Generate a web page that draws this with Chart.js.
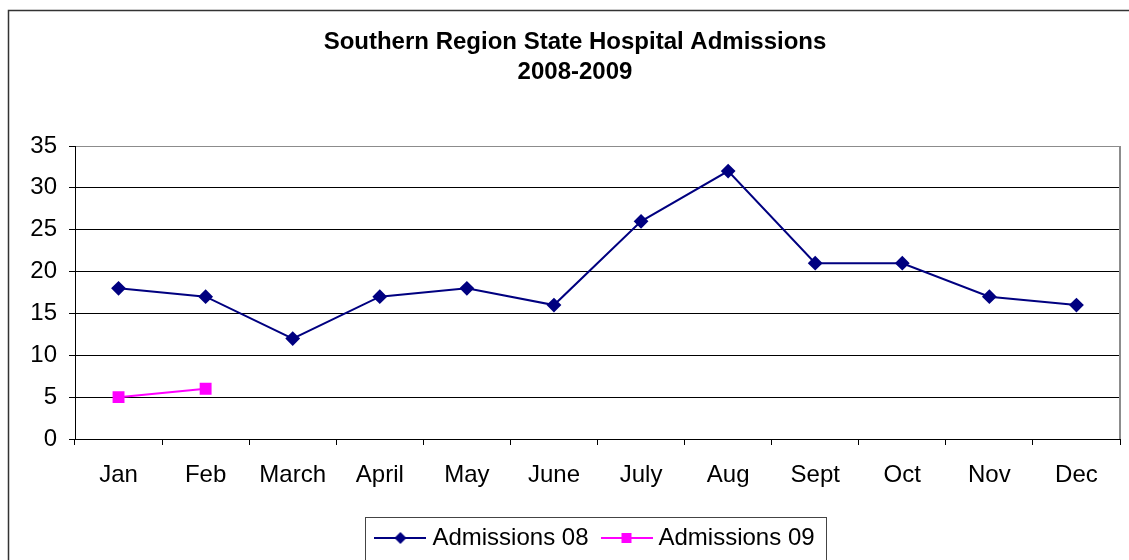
<!DOCTYPE html>
<html>
<head>
<meta charset="utf-8">
<script src="https://cdn.jsdelivr.net/npm/chart.js@4.4.1/dist/chart.umd.min.js"></script>
<style>
  html, body { margin: 0; padding: 0; background: #fff; }
  #wrap { width: 1129px; height: 560px; }
</style>
</head>
<body>
<div id="wrap"><canvas id="admissionsChart" width="1129" height="560"></canvas></div>
<script>
const months = ["Jan", "Feb", "March", "April", "May", "June", "July", "Aug", "Sept", "Oct", "Nov", "Dec"];
const admissions08 = [18, 17, 12, 17, 18, 16, 26, 32, 21, 21, 17, 16];
const admissions09 = [5, 6, null, null, null, null, null, null, null, null, null, null];
const yTicks = [0, 5, 10, 15, 20, 25, 30, 35];

const NAVY = "#000080";
const MAGENTA = "#ff00ff";
const FONT = "'Liberation Sans', Arial, sans-serif";
const PLOT_BOTTOM = 439;

// little line+marker images for the legend, like the Excel legend keys
function legendKey(color, marker) {
  const c = document.createElement("canvas");
  c.width = 52;
  c.height = 14;
  const g = c.getContext("2d");
  g.strokeStyle = color;
  g.lineWidth = 2;
  g.beginPath();
  g.moveTo(0, 7);
  g.lineTo(52, 7);
  g.stroke();
  g.fillStyle = color;
  g.beginPath();
  if (marker === "diamond") {
    g.moveTo(26, 1);
    g.lineTo(32, 7);
    g.lineTo(26, 13);
    g.lineTo(20, 7);
    g.closePath();
  } else {
    g.rect(21, 2, 10, 10);
  }
  g.fill();
  return c;
}

const frame = {
  id: "frame",
  afterLayout(chart) {
    // centre the legend under the plot area instead of the whole canvas
    const lg = chart.legend;
    const shift = (chart.chartArea.left + chart.chartArea.right) / 2 - (lg.left + lg.right) / 2;
    lg.left += shift;
    lg.right += shift;
  },
  afterDraw(chart) {
    const { ctx, chartArea, legend } = chart;
    ctx.save();
    // outer chart border (runs off the right/bottom edge in the original)
    ctx.strokeStyle = "#333";
    ctx.lineWidth = 1.5;
    ctx.strokeRect(8.5, 10.5, chart.width + 20, chart.height + 20);
    // gray plot border on the right
    ctx.strokeStyle = "#8c8c8c";
    ctx.lineWidth = 2;
    ctx.beginPath();
    ctx.moveTo(chartArea.right, chartArea.top);
    ctx.lineTo(chartArea.right, chartArea.bottom);
    ctx.stroke();
    // legend box
    const boxes = legend.legendHitBoxes || [];
    if (boxes.length) {
      const left = Math.min(...boxes.map((b) => b.left)) - 15;
      const right = Math.max(...boxes.map((b) => b.left + b.width)) + 12;
      const mid = boxes[0].top + boxes[0].height / 2;
      ctx.strokeStyle = "#444";
      ctx.lineWidth = 1;
      ctx.strokeRect(Math.round(left) + 0.5, Math.round(mid - 21) + 0.5, Math.round(right - left), 43);
    }
    ctx.restore();
  },
};

new Chart(document.getElementById("admissionsChart"), {
  type: "line",
  data: {
    labels: months,
    datasets: [
      {
        label: "Admissions 08",
        data: admissions08,
        borderColor: NAVY,
        backgroundColor: NAVY,
        borderWidth: 2,
        pointStyle: "rectRot",
        pointRadius: 6,
        pointHoverRadius: 6,
        tension: 0,
      },
      {
        label: "Admissions 09",
        data: admissions09,
        borderColor: MAGENTA,
        backgroundColor: MAGENTA,
        borderWidth: 2,
        pointStyle: "rect",
        pointRadius: 7,
        pointHoverRadius: 7,
        tension: 0,
      },
    ],
  },
  options: {
    responsive: false,
    animation: false,
    devicePixelRatio: 1,
    layout: {
      padding: { top: 10, left: 28, right: 7, bottom: 0 },
    },
    plugins: {
      title: {
        display: true,
        text: ["Southern Region State Hospital Admissions", "2008-2009"],
        color: "#000",
        font: { family: FONT, size: 24, weight: "bold", lineHeight: 1.25 },
        padding: { top: 17, bottom: 59 },
      },
      legend: {
        position: "bottom",
        labels: {
          color: "#000",
          font: { family: FONT, size: 24 },
          usePointStyle: true,
          pointStyleWidth: 40,
          padding: 18,
          generateLabels: (chart) =>
            chart.data.datasets.map((ds, i) => ({
              text: ds.label,
              pointStyle: legendKey(ds.borderColor, i === 0 ? "diamond" : "square"),
              fillStyle: ds.borderColor,
              strokeStyle: ds.borderColor,
              lineWidth: 0,
              datasetIndex: i,
              fontColor: "#000",
            })),
        },
      },
      tooltip: { enabled: false },
    },
    scales: {
      x: {
        offset: true,
        afterFit: (scale) => {
          const lh = (scale.chart.legend && scale.chart.legend.height) || 52;
          scale.height = scale.chart.height - PLOT_BOTTOM - lh;
        },
        grid: {
          offset: true,
          drawOnChartArea: false,
          drawTicks: true,
          tickLength: 6,
          color: "#000",
        },
        border: { display: true, color: "#000", width: 1 },
        ticks: {
          color: "#000",
          font: { family: FONT, size: 24 },
          padding: 16,
          maxRotation: 0,
          autoSkip: false,
        },
      },
      y: {
        min: 0,
        max: 35,
        afterBuildTicks: (scale) => {
          scale.ticks = yTicks.map((v) => ({ value: v }));
        },
        afterFit: (scale) => {
          scale.width = 47;
        },
        grid: {
          color: (c) => (c.tick && c.tick.value === 35 ? "#8c8c8c" : "#000"),
          tickColor: "#000",
          tickLength: 6,
          drawTicks: true,
        },
        border: { display: true, color: "#000", width: 1 },
        ticks: {
          color: "#000",
          font: { family: FONT, size: 24 },
          padding: 12,
        },
      },
    },
  },
  plugins: [frame],
});
</script>
</body>
</html>
